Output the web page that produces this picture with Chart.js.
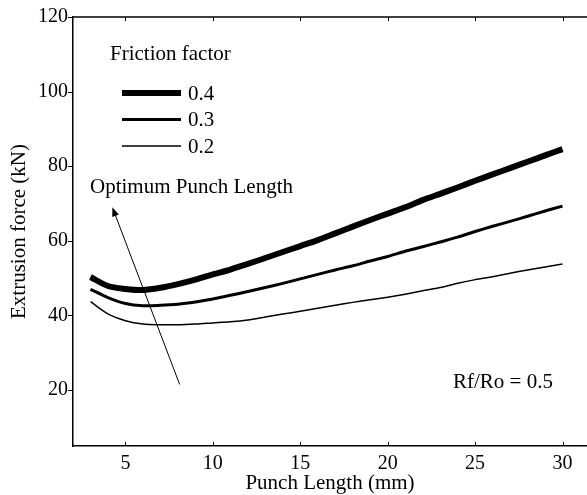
<!DOCTYPE html>
<html>
<head>
<meta charset="utf-8">
<script src="https://cdn.jsdelivr.net/npm/chart.js@4"></script>
<style>
  html, body { margin: 0; padding: 0; background: #fff; }
  #wrap { width: 587px; height: 495px; }
</style>
</head>
<body>
<div id="wrap"><canvas id="force"></canvas></div>
<script>
// punch length (mm)
const punchLength = [3, 4, 5, 6, 7, 8, 9, 10, 11, 12, 13, 14, 15, 16, 17, 18, 19, 20, 21, 22, 23, 24, 25, 26, 27, 28, 29, 30];
// extrusion force (kN) for each friction factor
const force04 = [50.3, 47.9, 47.1, 46.8, 47.4, 48.4, 49.6, 51.0, 52.3, 53.8, 55.4, 57.0, 58.6, 60.2, 62.0, 63.8, 65.6, 67.3, 69.0, 70.9, 72.6, 74.3, 76.1, 77.8, 79.5, 81.2, 82.9, 84.6];
const force03 = [47.0, 44.8, 43.2, 42.6, 42.7, 43.0, 43.6, 44.4, 45.4, 46.4, 47.5, 48.6, 49.8, 51.0, 52.2, 53.3, 54.6, 55.8, 57.2, 58.4, 59.7, 61.0, 62.5, 63.9, 65.2, 66.6, 68.0, 69.3];
const force02 = [43.7, 40.4, 38.6, 37.7, 37.5, 37.5, 37.7, 38.0, 38.3, 38.8, 39.6, 40.4, 41.1, 41.9, 42.7, 43.5, 44.2, 44.9, 45.7, 46.6, 47.5, 48.6, 49.6, 50.4, 51.3, 52.2, 53.0, 53.8];
const frictionLabels = ["0.4", "0.3", "0.2"];
const xTicks = [5, 10, 15, 20, 25, 30];
const yTicks = [20, 40, 60, 80, 100, 120];
// arrow for optimum punch length, in data units [x, y]: tail then head
const arrowTail = [8.1, 21.5];
const arrowHead = [4.25, 69];

const FONT = "'Liberation Serif', 'Times New Roman', serif";
const TEXT_SIZE = 21;
const TICK_SIZE = 20;

function toPoints(ys) {
    return punchLength.map((x, i) => ({ x: x, y: ys[i] }));
}

const widths = [6, 3, 1.5];

const framePlugin = {
    id: 'frame',
    afterDraw(chart) {
        const ctx = chart.ctx;
        const a = chart.chartArea;
        const xs = chart.scales.x, ys = chart.scales.y;
        ctx.save();
        ctx.strokeStyle = '#000';
        ctx.lineWidth = 1.5;
        ctx.beginPath();
        ctx.moveTo(a.left, a.top);
        ctx.lineTo(a.right, a.top);
        ctx.stroke();
        ctx.lineWidth = 1;
        // x ticks point inwards, top and bottom
        xTicks.forEach(v => {
            const px = Math.round(xs.getPixelForValue(v)) + 0.5;
            ctx.beginPath();
            ctx.moveTo(px, a.bottom);
            ctx.lineTo(px, a.bottom - 4);
            ctx.moveTo(px, a.top);
            ctx.lineTo(px, a.top + 4);
            ctx.stroke();
        });
        // y ticks point outwards
        yTicks.forEach(v => {
            const py = Math.round(ys.getPixelForValue(v)) + 0.5;
            ctx.beginPath();
            ctx.moveTo(a.left, py);
            ctx.lineTo(a.left - 5, py);
            ctx.stroke();
        });

        // legend
        ctx.fillStyle = '#000';
        ctx.font = TEXT_SIZE + 'px ' + FONT;
        ctx.textBaseline = 'middle';
        ctx.textAlign = 'left';
        ctx.fillText('Friction factor', 110, 54);
        const rows = [93, 119.5, 146];
        chart.data.datasets.forEach((ds, i) => {
            ctx.lineWidth = ds.borderWidth;
            ctx.beginPath();
            ctx.moveTo(122, rows[i]);
            ctx.lineTo(181, rows[i]);
            ctx.stroke();
            ctx.fillText(ds.label, 188, rows[i] + 1);
        });

        // annotations
        ctx.fillText('Optimum Punch Length', 90, 187);
        ctx.fillText('Rf/Ro = 0.5', 453, 382);

        // arrow
        const x0 = xs.getPixelForValue(arrowTail[0]), y0 = ys.getPixelForValue(arrowTail[1]);
        const x1 = xs.getPixelForValue(arrowHead[0]), y1 = ys.getPixelForValue(arrowHead[1]);
        const ang = Math.atan2(y1 - y0, x1 - x0);
        ctx.lineWidth = 1;
        ctx.beginPath();
        ctx.moveTo(x0, y0);
        ctx.lineTo(x1 - 6 * Math.cos(ang), y1 - 6 * Math.sin(ang));
        ctx.stroke();
        ctx.beginPath();
        ctx.moveTo(x1, y1);
        ctx.lineTo(x1 - 9 * Math.cos(ang) + 3.5 * Math.sin(ang), y1 - 9 * Math.sin(ang) - 3.5 * Math.cos(ang));
        ctx.lineTo(x1 - 9 * Math.cos(ang) - 3.5 * Math.sin(ang), y1 - 9 * Math.sin(ang) + 3.5 * Math.cos(ang));
        ctx.closePath();
        ctx.fill();
        ctx.restore();
    }
};

new Chart(document.getElementById("force"), {
    type: 'line',
    data: {
        datasets: [force04, force03, force02].map((d, i) => ({
            label: frictionLabels[i],
            data: toPoints(d),
            borderColor: '#000',
            borderWidth: widths[i],
            pointRadius: 0,
            tension: 0.3,
            fill: false
        }))
    },
    options: {
        responsive: true,
        maintainAspectRatio: false,
        animation: false,
        layout: { padding: { top: 15, right: 0, left: 0, bottom: 0 } },
        plugins: {
            legend: { display: false },
            tooltip: { enabled: false }
        },
        scales: {
            x: {
                type: 'linear',
                min: 2,
                max: 31.4,
                afterFit: s => { s.height = 49; },
                afterBuildTicks: s => { s.ticks = xTicks.map(v => ({ value: v })); },
                grid: { display: false, drawTicks: false },
                border: { display: true, color: '#000', width: 1.5 },
                ticks: { color: '#000', padding: 6, maxRotation: 0, font: { family: FONT, size: TICK_SIZE } },
                title: {
                    display: true,
                    text: 'Punch Length (mm)',
                    color: '#000',
                    padding: { top: 0, bottom: 0 },
                    font: { family: FONT, size: TEXT_SIZE, lineHeight: 1.1 }
                }
            },
            y: {
                min: 5,
                max: 120,
                afterFit: s => { s.width = 73; },
                afterBuildTicks: s => { s.ticks = yTicks.map(v => ({ value: v })); },
                grid: { display: false, drawTicks: false },
                border: { display: true, color: '#000', width: 1.5 },
                ticks: { color: '#000', padding: 5, font: { family: FONT, size: TICK_SIZE } },
                title: {
                    display: true,
                    text: 'Extrusion force (kN)',
                    color: '#000',
                    padding: { top: 8, bottom: 0 },
                    font: { family: FONT, size: TEXT_SIZE, lineHeight: 1.1 }
                }
            }
        }
    },
    plugins: [framePlugin]
});
</script>
</body>
</html>
